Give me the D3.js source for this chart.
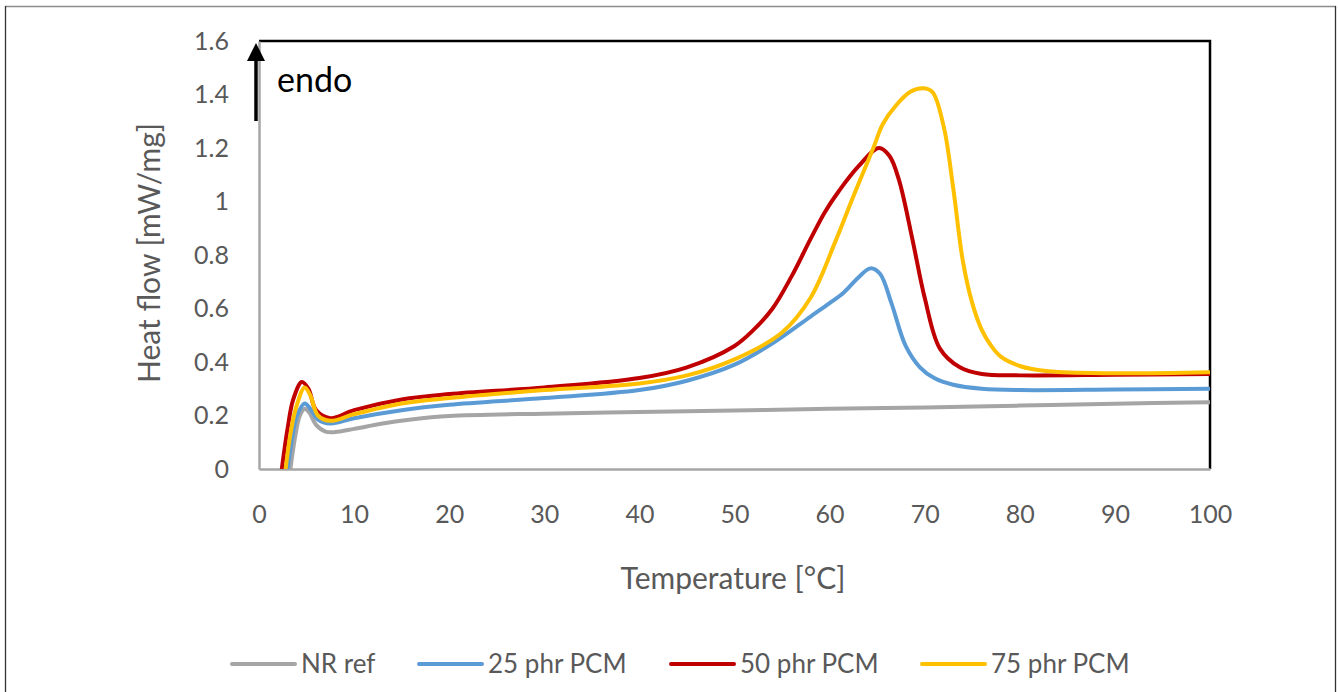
<!DOCTYPE html>
<html>
<head>
<meta charset="utf-8">
<script src="https://cdn.jsdelivr.net/npm/d3@7"></script>
<style>
  body { margin: 0; background: #fff; }
  svg { display: block; font-family: Lato, "Open Sans", sans-serif; }
</style>
</head>
<body>
<svg id="chart" width="1339" height="692"></svg>
<script>
// temperatures [°C] and heat flow [mW/mg]
var nrRefT  = [3.3, 3.8, 4.3, 4.8, 5.3, 6.0, 7.0, 8.0, 10, 13, 16, 20, 30, 40, 50, 60, 70, 80, 90, 100];
var nrRefH  = [0, 0.12, 0.2, 0.225, 0.21, 0.165, 0.14, 0.138, 0.15, 0.17, 0.185, 0.198, 0.207, 0.213, 0.219, 0.225, 0.23, 0.237, 0.244, 0.25];

var pcm25T  = [3.0, 3.5, 4.0, 4.8, 5.4, 6.2, 7.5, 10, 15, 20, 30, 40, 45, 50, 54, 58, 60, 61.5, 63, 64.3, 65.3, 66.5, 68, 69.5, 71, 73, 76, 80, 90, 100];
var pcm25H  = [0, 0.12, 0.2, 0.245, 0.225, 0.185, 0.17, 0.19, 0.22, 0.24, 0.265, 0.295, 0.33, 0.39, 0.47, 0.57, 0.62, 0.66, 0.715, 0.75, 0.73, 0.62, 0.46, 0.38, 0.34, 0.315, 0.3, 0.295, 0.297, 0.3];

var pcm50T  = [2.4, 3.0, 3.6, 4.5, 5.2, 6.0, 7.5, 10, 15, 20, 30, 40, 45, 50, 52, 54, 56, 58, 59.5, 61, 63, 65.2, 66.3, 67.3, 68.7, 70, 71.6, 73.7, 76, 80, 90, 100];
var pcm50H  = [0, 0.15, 0.26, 0.325, 0.3, 0.22, 0.19, 0.22, 0.26, 0.28, 0.305, 0.34, 0.38, 0.46, 0.52, 0.6, 0.72, 0.86, 0.96, 1.04, 1.13, 1.2, 1.17, 1.08, 0.86, 0.64, 0.45, 0.38, 0.355, 0.35, 0.352, 0.355];

var pcm75T  = [2.8, 3.3, 3.9, 4.8, 5.4, 6.2, 7.5, 10, 15, 20, 30, 40, 45, 50, 55, 58, 60.6, 62.5, 64.6, 65.6, 67, 68.5, 69.8, 70.8, 72, 73, 74, 75, 76, 77, 78, 80, 83, 90, 100];
var pcm75H  = [0, 0.13, 0.23, 0.305, 0.275, 0.2, 0.18, 0.205, 0.245, 0.265, 0.295, 0.32, 0.35, 0.41, 0.51, 0.64, 0.85, 1.02, 1.2, 1.29, 1.36, 1.41, 1.423, 1.41, 1.28, 1.05, 0.78, 0.62, 0.52, 0.46, 0.42, 0.385, 0.365, 0.358, 0.362];

var seriesNames  = ["NR ref", "25 phr PCM", "50 phr PCM", "75 phr PCM"];
var seriesColors = ["#A5A5A5", "#5B9BD5", "#C00000", "#FFC000"];
var xTicks = [0, 10, 20, 30, 40, 50, 60, 70, 80, 90, 100];
var yTicks = [0, 0.2, 0.4, 0.6, 0.8, 1, 1.2, 1.4, 1.6];

var series = [
  {name: seriesNames[0], color: seriesColors[0], t: nrRefT, h: nrRefH},
  {name: seriesNames[1], color: seriesColors[1], t: pcm25T, h: pcm25H},
  {name: seriesNames[2], color: seriesColors[2], t: pcm50T, h: pcm50H},
  {name: seriesNames[3], color: seriesColors[3], t: pcm75T, h: pcm75H}
];

var svg = d3.select("#chart");
var plotL = 259, plotR = 1210, plotT = 41, plotB = 469;

var x = d3.scaleLinear().domain([0, 100]).range([plotL, plotR]);
var y = d3.scaleLinear().domain([0, 1.6]).range([plotB, plotT]);

// outer chart frame
svg.append("line").attr("x1", 5).attr("x2", 1336).attr("y1", 6.5).attr("y2", 6.5)
  .attr("stroke", "#8c8c8c").attr("stroke-width", 1.5);
svg.append("line").attr("x1", 5.5).attr("x2", 5.5).attr("y1", 6).attr("y2", 692)
  .attr("stroke", "#333").attr("stroke-width", 1.3);
svg.append("line").attr("x1", 1335.5).attr("x2", 1335.5).attr("y1", 6).attr("y2", 692)
  .attr("stroke", "#333").attr("stroke-width", 1.3);

svg.append("defs").append("clipPath").attr("id", "plotclip")
  .append("rect").attr("x", plotL).attr("y", plotT - 5).attr("width", plotR - plotL).attr("height", plotB - plotT + 5);

// top and right borders (black)
svg.append("path")
  .attr("d", "M" + plotL + "," + plotT + "H" + plotR + "V" + plotB)
  .attr("fill", "none").attr("stroke", "#000").attr("stroke-width", 2.5);

// axes
var xAxis = svg.append("g").attr("transform", "translate(0," + plotB + ")")
  .call(d3.axisBottom(x).tickValues(xTicks).tickSize(0).tickPadding(36).tickFormat(d3.format("d")));
var yAxis = svg.append("g").attr("transform", "translate(" + plotL + ",0)")
  .call(d3.axisLeft(y).tickValues(yTicks).tickSize(0).tickPadding(30).tickFormat(function(d){ return String(+d.toFixed(1)); }));

[xAxis, yAxis].forEach(function(a){
  a.select(".domain").attr("stroke", "#A6A6A6").attr("stroke-width", 2.5);
  a.selectAll("text").attr("fill", "#595959").attr("font-size", 25).attr("font-family", "Lato, sans-serif");
});

// curves
var line = d3.line()
  .x(function(d){ return x(d[0]); })
  .y(function(d){ return y(d[1]); })
  .curve(d3.curveCatmullRom.alpha(0.5));

svg.append("g").attr("clip-path", "url(#plotclip)")
  .selectAll("path").data(series).enter().append("path")
  .attr("d", function(s){ return line(d3.zip(s.t, s.h)); })
  .attr("fill", "none")
  .attr("stroke", function(s){ return s.color; })
  .attr("stroke-width", 4)
  .attr("stroke-linejoin", "round");

// endo arrow
svg.append("line").attr("x1", 256).attr("x2", 256).attr("y1", 121).attr("y2", 58)
  .attr("stroke", "#000").attr("stroke-width", 3.5);
svg.append("path").attr("d", "M256,43L265,61L247,61Z").attr("fill", "#000");
svg.append("text").attr("x", 277).attr("y", 92).attr("font-size", 34).attr("fill", "#000").text("endo");

// axis titles
svg.append("text").attr("x", 733).attr("y", 589).attr("text-anchor", "middle")
  .attr("font-size", 30).attr("fill", "#595959").text("Temperature [°C]");
svg.append("text").attr("transform", "translate(160,253) rotate(-90)").attr("text-anchor", "middle")
  .attr("font-size", 30).attr("fill", "#595959").text("Heat flow [mW/mg]");

// legend
var legendX = [230, 417, 669, 920];
var leg = svg.append("g").selectAll("g").data(series).enter().append("g")
  .attr("transform", function(d, i){ return "translate(" + legendX[i] + ",664)"; });
leg.append("line").attr("x1", 2).attr("x2", 65).attr("y1", 0).attr("y2", 0)
  .attr("stroke", function(d){ return d.color; }).attr("stroke-width", 4).attr("stroke-linecap", "round");
leg.append("text").attr("x", 71).attr("y", 9).attr("font-size", 26).attr("fill", "#595959")
  .text(function(d){ return d.name; });
</script>
</body>
</html>
